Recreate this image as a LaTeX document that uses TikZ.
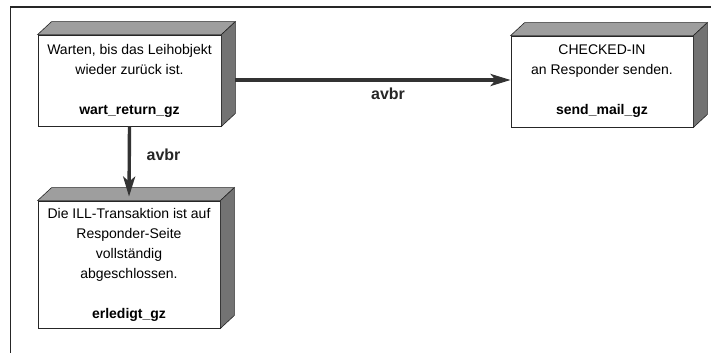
\documentclass[tikz,border=0pt]{standalone}
\usepackage{fontspec}
\setmainfont{Liberation Sans}
\usetikzlibrary{arrows.meta}
\definecolor{arrowgray}{HTML}{333333}
\tikzset{
  statebox/.style={draw=black!85, line width=0.8pt, fill=white, inner sep=0pt,
    align=center, font=\fontsize{14}{20}\selectfont},
  topface/.style={fill=black!38, draw=black!85, line width=0.6pt},
  sideface/.style={fill=black!55, draw=black!85, line width=0.6pt},
  flow/.style={draw=arrowgray, line width=3.4pt, -{Stealth[length=20pt,width=12pt,inset=5pt]}},
  flowlabel/.style={font=\fontsize{16}{18}\selectfont\bfseries, text=black!85},
  frame/.style={draw=black!85}
}
\newcommand{\cubefaces}[1]{%
  \path[topface] (#1.north west) -- ++(14,-13) -- ([shift={(14,-13)}]#1.north east) -- (#1.north east) -- cycle;
  \path[sideface] (#1.north east) -- ++(14,-13) -- ([shift={(14,-13)}]#1.south east) -- (#1.south east) -- cycle;
}
\begin{document}
\begin{tikzpicture}[x=1pt,y=-1pt]
\useasboundingbox (0,0) rectangle (711,353);
% frame
\coordinate (ftl) at (10,7);
\coordinate (ftr) at (711,7);
\coordinate (fbl) at (10,353);
\draw[frame, line width=1.5pt] (ftl) -- (ftr);
\draw[frame, line width=1pt] (ftl) -- (fbl);
% boxes
\node[statebox, minimum width=183pt, minimum height=91pt] (b1) at (129.5,80.5)
  {Warten, bis das Leihobjekt\\wieder zurück ist.\\[20pt]\textbf{wart\_return\_gz}};
\node[statebox, minimum width=182pt, minimum height=91pt] (b2) at (602,81.5)
  {CHECKED-IN\\an Responder senden.\\[20pt]\textbf{send\_mail\_gz}};
\node[statebox, minimum width=182pt, minimum height=127pt] (b3) at (129,264.5)
  {Die ILL-Transaktion ist auf\\Responder-Seite\\vollständig\\abgeschlossen.\\[20pt]\textbf{erledigt\_gz}};
% horizontal connector (under the side face)
\draw[flow] (b1.east |- 0,80) -- (b2.west |- 0,80);
\cubefaces{b1}
\cubefaces{b2}
\cubefaces{b3}
% vertical connector
\draw[flow, shorten >=4pt] (b1.south) -- (b3.north);
% labels
\node[flowlabel] (l1) at (388,94) {avbr};
\node[flowlabel] (l2) at (163.5,155) {avbr};
\end{tikzpicture}
\end{document}
